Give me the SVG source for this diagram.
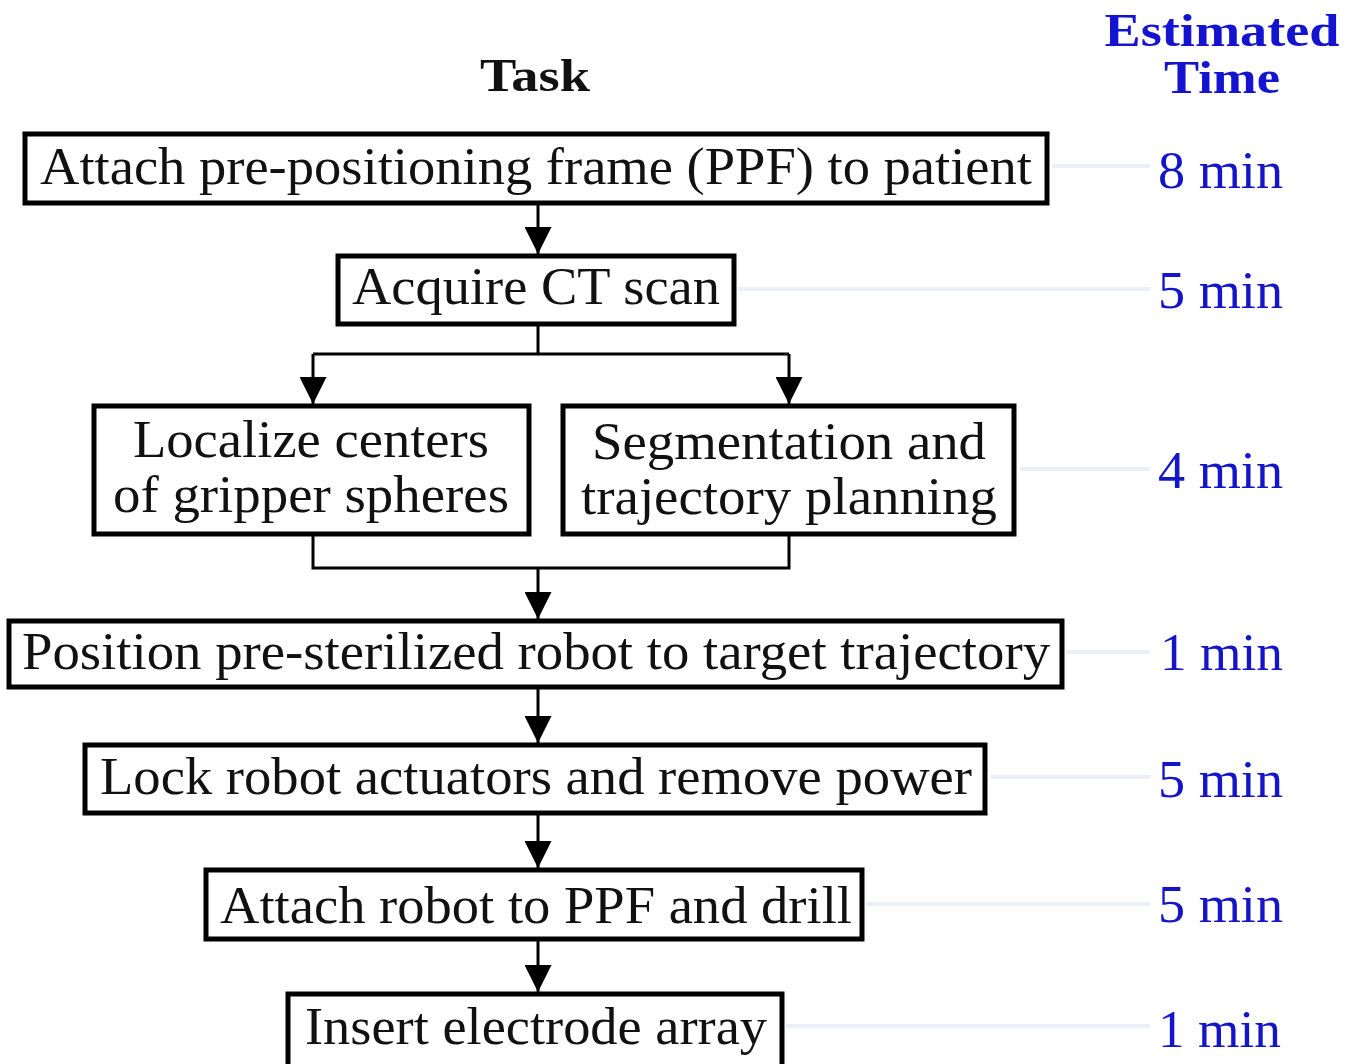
<svg xmlns="http://www.w3.org/2000/svg" width="1361" height="1064" viewBox="0 0 1361 1064">
<style>
.box{fill:#fff;stroke:#000;stroke-width:5}
.t{font-family:"Liberation Serif","Times New Roman",serif;font-size:52px;fill:#111;text-anchor:middle}
.tm{font-family:"Liberation Serif","Times New Roman",serif;font-size:52px;fill:#1515c8;text-anchor:start}
.h{font-family:"Liberation Serif","Times New Roman",serif;font-size:47px;font-weight:bold;text-anchor:middle}
.ln{fill:none;stroke:#000;stroke-width:3}
.faint{stroke:#eceef8;stroke-width:4}
</style>
<defs>
<marker id="ah" viewBox="0 0 10 10" refX="10" refY="5" markerWidth="9" markerHeight="9" markerUnits="strokeWidth" orient="auto">
<path d="M0,0 L10,5 L0,10 Z" fill="#000"/>
</marker>
</defs>
<rect width="1361" height="1064" fill="#fff"/>
<text class="h" x="535" y="91" fill="#111" textLength="110" lengthAdjust="spacingAndGlyphs">Task</text>
<text class="h" x="1222" y="46" fill="#1414d0" textLength="235" lengthAdjust="spacingAndGlyphs">Estimated</text>
<text class="h" x="1222" y="93" fill="#1414d0" textLength="116" lengthAdjust="spacingAndGlyphs">Time</text>
<g id="guides">
<line class="faint" x1="1052" y1="166" x2="1150" y2="166"/>
<line class="faint" x1="738" y1="289" x2="1150" y2="289"/>
<line class="faint" x1="1020" y1="469" x2="1150" y2="469"/>
<line class="faint" x1="1066" y1="652" x2="1150" y2="652"/>
<line class="faint" x1="990" y1="777" x2="1150" y2="777"/>
<line class="faint" x1="866" y1="904" x2="1150" y2="904"/>
<line class="faint" x1="786" y1="1026" x2="1150" y2="1026"/>
</g>
<g id="connectors">
<line class="ln" x1="538" y1="203" x2="538" y2="254" marker-end="url(#ah)"/>
<polyline class="ln" points="538,324 538,354"/>
<polyline class="ln" points="313,354 789,354"/>
<line class="ln" x1="313" y1="354" x2="313" y2="404" marker-end="url(#ah)"/>
<line class="ln" x1="789" y1="354" x2="789" y2="404" marker-end="url(#ah)"/>
<polyline class="ln" points="313,534 313,568 789,568 789,534"/>
<line class="ln" x1="538" y1="568" x2="538" y2="619" marker-end="url(#ah)"/>
<line class="ln" x1="538" y1="687" x2="538" y2="743" marker-end="url(#ah)"/>
<line class="ln" x1="538" y1="813" x2="538" y2="868" marker-end="url(#ah)"/>
<line class="ln" x1="538" y1="939" x2="538" y2="992" marker-end="url(#ah)"/>
</g>
<g id="n1"><rect class="box" x="25" y="134" width="1022" height="69"/><text class="t" x="536" y="184" textLength="992" lengthAdjust="spacingAndGlyphs">Attach pre-positioning frame (PPF) to patient</text></g>
<g id="n2"><rect class="box" x="338" y="256" width="396" height="68"/><text class="t" x="536" y="304" textLength="368" lengthAdjust="spacingAndGlyphs">Acquire CT scan</text></g>
<g id="n3"><rect class="box" x="94" y="406" width="435" height="128"/><text class="t" x="311" y="457" textLength="356" lengthAdjust="spacingAndGlyphs">Localize centers</text><text class="t" x="311" y="512" textLength="396" lengthAdjust="spacingAndGlyphs">of gripper spheres</text></g>
<g id="n4"><rect class="box" x="563" y="406" width="451" height="128"/><text class="t" x="789" y="459" textLength="394" lengthAdjust="spacingAndGlyphs">Segmentation and</text><text class="t" x="789" y="514" textLength="416" lengthAdjust="spacingAndGlyphs">trajectory planning</text></g>
<g id="n5"><rect class="box" x="9" y="621" width="1053" height="66"/><text class="t" x="536" y="669" textLength="1028" lengthAdjust="spacingAndGlyphs">Position pre-sterilized robot to target trajectory</text></g>
<g id="n6"><rect class="box" x="85" y="745" width="900" height="68"/><text class="t" x="536" y="794" textLength="872" lengthAdjust="spacingAndGlyphs">Lock robot actuators and remove power</text></g>
<g id="n7"><rect class="box" x="206" y="870" width="656" height="69"/><text class="t" x="536" y="923" textLength="632" lengthAdjust="spacingAndGlyphs">Attach robot to PPF and drill</text></g>
<g id="n8"><rect class="box" x="288" y="994" width="494" height="75"/><text class="t" x="536" y="1044" textLength="462" lengthAdjust="spacingAndGlyphs">Insert electrode array</text></g>
<g id="times">
<text class="tm" x="1158" y="188" textLength="125" lengthAdjust="spacingAndGlyphs">8 min</text>
<text class="tm" x="1158" y="308" textLength="125" lengthAdjust="spacingAndGlyphs">5 min</text>
<text class="tm" x="1158" y="488" textLength="125" lengthAdjust="spacingAndGlyphs">4 min</text>
<text class="tm" x="1160" y="670" textLength="123" lengthAdjust="spacingAndGlyphs">1 min</text>
<text class="tm" x="1158" y="797" textLength="125" lengthAdjust="spacingAndGlyphs">5 min</text>
<text class="tm" x="1158" y="922" textLength="125" lengthAdjust="spacingAndGlyphs">5 min</text>
<text class="tm" x="1158" y="1047" textLength="123" lengthAdjust="spacingAndGlyphs">1 min</text>
</g>
</svg>
